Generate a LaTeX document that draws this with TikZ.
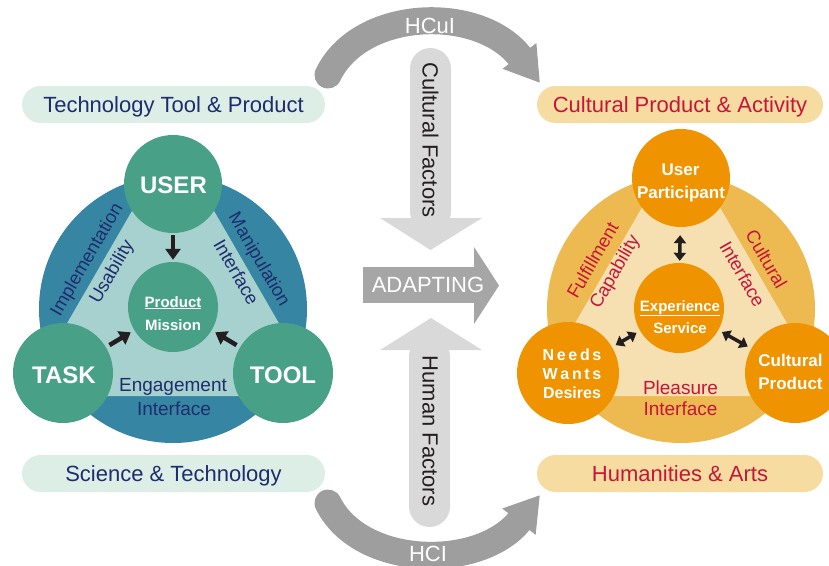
\documentclass[tikz,border=0pt]{standalone}
\usepackage{fontspec}
\setmainfont{Liberation Sans}
\usetikzlibrary{arrows.meta}
\definecolor{tealdark}{HTML}{3686A3}
\definecolor{teallight}{HTML}{A7D1CF}
\definecolor{tealcirc}{HTML}{48A086}
\definecolor{navytxt}{HTML}{1F2C6E}
\definecolor{goldout}{HTML}{EDBA52}
\definecolor{goldlight}{HTML}{F6E0B2}
\definecolor{orangecirc}{HTML}{EF9300}
\definecolor{redtxt}{HTML}{C5163A}
\definecolor{pillgreen}{HTML}{DCEEE6}
\definecolor{pillgold}{HTML}{F7DCA2}
\definecolor{arcgray}{HTML}{9E9E9E}
\definecolor{lgray}{HTML}{D9D9D9}
\definecolor{mgray}{HTML}{A6A6A6}
\definecolor{inkdark}{HTML}{231F20}
\newcommand{\fsz}[1]{\fontsize{#1}{#1}\selectfont}
\begin{document}
\begin{tikzpicture}[x=1pt,y=-1pt,
  disc/.style={circle, inner sep=0pt, minimum size=#1},
  pill/.style={rounded corners=18.5pt, minimum width=303pt, minimum height=37pt, inner sep=0pt, text height=15.75pt, text depth=0pt, font=\fsz{22}},
  txt/.style={inner sep=0pt, anchor=base},
  side/.style={inner sep=0pt, font=\fsz{18.5}},
  wbold/.style={txt, text=white, font=\bfseries\fsz{#1}},
  bandarc/.style={draw=arcgray, line width=27pt, line cap=round, -{Triangle[width=40pt,length=34pt]}},
  blkarr/.style={draw=inkdark, line width=4.5pt, -{Triangle[width=15pt,length=11pt]}},
  dblarr/.style={draw=inkdark, line width=3.5pt, {Triangle[width=12pt,length=8pt]}-{Triangle[width=12pt,length=8pt]}},
]
\useasboundingbox (0,0) rectangle (829,565);

% ---- curved arrows
\coordinate (hcuiA) at (328,75);
\coordinate (hcuiB) at (540,83);
\draw[bandarc] (hcuiA) .. controls (360,8) and (480,4) .. (hcuiB);
\node[txt, text=white, font=\fsz{22}] (hcuit) at (430,33.5) {HCuI};
\coordinate (hciA) at (328,503);
\coordinate (hciB) at (540,495);
\draw[bandarc] (hciA) .. controls (360,568) and (480,571) .. (hciB);
\node[txt, text=white, font=\fsz{22}] (hcit) at (428,561) {HCI};

% ---- central arrows
\fill[lgray, rounded corners=20.5pt] (410,48) rectangle (451,232);
\fill[lgray] (380,218) -- (482,218) -- (430.5,250) -- cycle;
\node[inner sep=0pt, rotate=-90, font=\fsz{22}, text=inkdark] (cf) at (430.5,140) {Cultural Factors};
\fill[lgray, rounded corners=20.5pt] (409,336) rectangle (450,527);
\fill[lgray] (380,350) -- (482,350) -- (431,318) -- cycle;
\node[inner sep=0pt, rotate=-90, font=\fsz{22}, text=inkdark] (hf) at (430,431) {Human Factors};
\fill[mgray] (363,267) rectangle (476,303);
\fill[mgray] (474,247) -- (499,285.5) -- (474,324) -- cycle;
\node[txt, text=white, font=\fsz{22}] (adapt) at (428,292.5) {ADAPTING};

% ---- pills
\node[pill, fill=pillgreen, text=navytxt] (ttp) at (173.5,104.5) {Technology Tool \& Product};
\node[pill, fill=pillgreen, text=navytxt] (sat) at (173.5,473.5) {Science \& Technology};
\node[pill, fill=pillgold, text=redtxt, minimum width=286pt] (cpa) at (680,104.5) {Cultural Product \& Activity};
\node[pill, fill=pillgold, text=redtxt, minimum width=286pt] (haa) at (680,473.5) {Humanities \& Arts};

% ---- left diagram
\fill[tealdark] (173,309) circle[radius=134pt];
\begin{scope}
  \clip (173,309) circle[radius=134pt];
  \fill[teallight] (173,140) -- (25,396) -- (321,396) -- cycle;
\end{scope}
\node[disc=98pt, fill=tealcirc] (user) at (173,184) {};
\node[disc=100pt, fill=tealcirc] (task) at (63,373) {};
\node[disc=100pt, fill=tealcirc] (tool) at (283,373) {};
\node[disc=90pt, fill=tealcirc] (prod) at (173,307) {};
\draw[blkarr, shorten <=2pt, shorten >=2pt] (user) -- (prod);
\draw[blkarr, shorten <=4pt, shorten >=4pt] (task) -- (prod);
\draw[blkarr, shorten <=4pt, shorten >=4pt] (tool) -- (prod);
\node[wbold=24] (usert) at (173.5,193) {USER};
\node[wbold=24] (taskt) at (64,383) {TASK};
\node[wbold=24] (toolt) at (283,383) {TOOL};
\node[wbold=15] (prodt) at (173,307) {\underline{Product}};
\node[wbold=15] (misst) at (173,330) {Mission};
\node[side, text=navytxt, rotate=60] (impl) at (87.5,260) {Implementation};
\node[side, text=navytxt, rotate=60] (usab) at (112.5,272) {Usability};
\node[side, text=navytxt, rotate=-60] (manip) at (258.5,260) {Manipulation};
\node[side, text=navytxt, rotate=-60] (intfa) at (236.5,272) {Interface};
\node[txt, text=navytxt, font=\fsz{19}] (engag) at (173,391) {Engagement};
\node[txt, text=navytxt, font=\fsz{19}] (intfb) at (174,415) {Interface};

% ---- right diagram
\fill[goldout] (681,309) circle[radius=134pt];
\begin{scope}
  \clip (681,309) circle[radius=134pt];
  \fill[goldlight] (681,140) -- (533,396) -- (829,396) -- cycle;
\end{scope}
\node[disc=98pt, fill=orangecirc] (upart) at (681,178) {};
\node[disc=102pt, fill=orangecirc] (needs) at (568,373) {};
\node[disc=100pt, fill=orangecirc] (cprod) at (795,373) {};
\node[disc=90pt, fill=orangecirc] (exper) at (679,308) {};
\draw[dblarr, shorten <=8pt, shorten >=2pt] (upart) -- (exper);
\draw[dblarr, shorten <=4pt, shorten >=4pt] (needs) -- (exper);
\draw[dblarr, shorten <=4pt, shorten >=4pt] (cprod) -- (exper);
\node[wbold=17] (usrt) at (680.5,175) {User};
\node[wbold=17] (partt) at (681,198) {Participant};
\node[wbold=16] (needt) at (572,360) {N\,e\,e\,d\,s};
\node[wbold=16] (wantt) at (572,379.5) {W\,a\,n\,t\,s};
\node[wbold=16] (desit) at (572,398) {Desires};
\node[wbold=17] (cultt) at (790.5,366) {Cultural};
\node[wbold=17] (cprt) at (790.5,389) {Product};
\node[wbold=15] (expt) at (680,311) {\underline{Experience}};
\node[wbold=15] (servt) at (680,333.5) {Service};
\node[side, text=redtxt, rotate=60] (fulf) at (592.5,260) {Fulfillment};
\node[side, text=redtxt, rotate=60] (capa) at (615.5,272) {Capability};
\node[side, text=redtxt, rotate=-60] (cultl) at (766.5,259) {Cultural};
\node[side, text=redtxt, rotate=-60] (intfc) at (742.5,274) {Interface};
\node[txt, text=redtxt, font=\fsz{19}] (pleas) at (680.5,394) {Pleasure};
\node[txt, text=redtxt, font=\fsz{19}] (intfd) at (680.5,415) {Interface};
\end{tikzpicture}
\end{document}
